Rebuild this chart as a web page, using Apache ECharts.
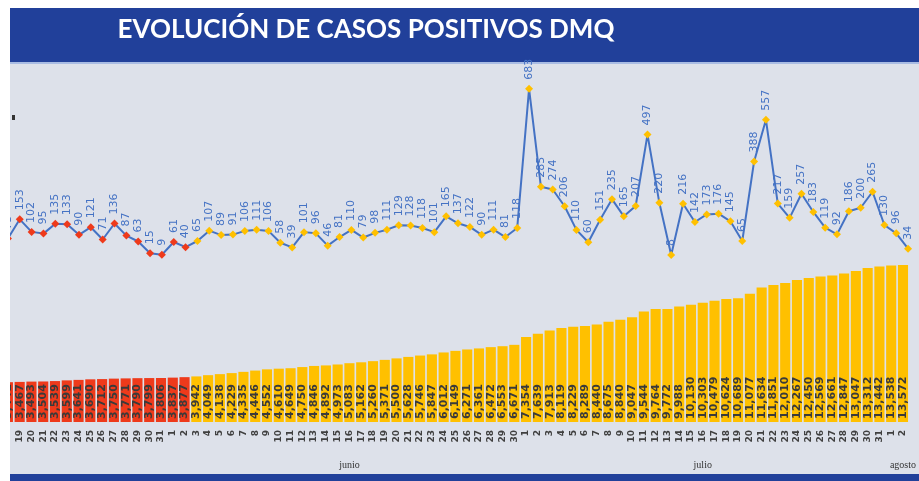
<!DOCTYPE html>
<html><head><meta charset="utf-8">
<script src="https://cdn.jsdelivr.net/npm/echarts@6/dist/echarts.min.js"></script>
<style>html,body{margin:0;padding:0;background:#fff}#c{width:919px;height:481px}</style>
</head><body><div id="c"></div>
<script>
const titleText = 'EVOLUCIÓN DE CASOS POSITIVOS DMQ';
const days = ['18','19','20','21','22','23','24','25','26','27','28','29','30','31',
  '1','2','3','4','5','6','7','8','9','10','11','12','13','14','15','16','17','18','19','20','21','22','23','24','25','26','27','28','29','30',
  '1','2','3','4','5','6','7','8','9','10','11','12','13','14','15','16','17','18','19','20','21','22','23','24','25','26','27','28','29','30','31',
  '1','2'];
const daily = [75,153,102,95,135,133,90,121,71,136,87,63,15,9,61,40,
  65,107,89,91,106,111,106,58,39,101,96,46,81,110,79,98,111,129,128,118,101,165,137,122,90,111,81,118,
  683,285,274,206,110,60,151,235,165,207,497,220,8,216,142,173,176,145,65,388,557,217,159,257,183,119,92,186,200,265,130,
  96,34];
const cumulative = [3441,3467,3493,3504,3539,3599,3641,3690,3712,3750,3771,3790,3799,3806,3837,3877,
  3942,4049,4138,4229,4335,4446,4552,4610,4649,4750,4846,4892,4973,5083,5162,5260,5371,5500,5628,5746,5847,6012,6149,6271,6361,6472,6553,6671,
  7354,7639,7913,8119,8229,8289,8440,8675,8840,9047,9544,9764,9772,9988,10130,10303,10479,10624,10689,11077,11634,11851,12010,12267,12450,12569,12661,12847,13047,13312,13442,
  13538,13572];
const monthNames = ['', 'junio', 'julio', 'agosto'];
const RED_COUNT = 16;

const RED = '#EE3A1B', YELLOW = '#FFC000', BLUE = '#4472C4';

// month label axis built from the day sequence
const monthIdx = [];
let m = 0;
days.forEach((d, i) => { if (i > 0 && d === '1') m++; monthIdx.push(m); });
const monthAxis = days.map(() => '');
monthNames.forEach((name, k) => {
  const idxs = monthIdx.map((v, i) => v === k ? i : -1).filter(i => i >= 0);
  if (idxs.length && name) monthAxis[idxs[Math.floor(idxs.length / 2)]] = name;
});

const colorFor = i => i < RED_COUNT ? RED : YELLOW;
const lineData = daily.map((v, i) => ({ value: v, itemStyle: { color: colorFor(i) } }));
const barData = cumulative.map((v, i) => ({ value: v, itemStyle: { color: colorFor(i) } }));

const chart = echarts.init(document.getElementById('c'), null, { renderer: 'canvas' });
chart.setOption({
  animation: false,
  backgroundColor: '#ffffff',
  graphic: [
    { type: 'rect', z: -10, shape: { x: 10, y: 64, width: 909, height: 412 }, style: { fill: '#DDE1EA' } },
    { type: 'rect', z: -9, shape: { x: 10, y: 8, width: 909, height: 54 }, style: { fill: '#21409A' } },
    { type: 'rect', z: -9, shape: { x: 10, y: 62, width: 909, height: 2 }, style: { fill: '#A9BCE3' } },
    { type: 'text', z: 10, style: { text: titleText, x: 366, y: 30, fill: '#ffffff', font: 'bold 26px Lato', align: 'center', verticalAlign: 'middle' } },
    { type: 'rect', z: 100, shape: { x: 0, y: 0, width: 10, height: 481 }, style: { fill: '#ffffff' } },
    { type: 'rect', z: 100, shape: { x: 10, y: 474, width: 909, height: 7 }, style: { fill: '#21409A' } },
    { type: 'rect', z: 100, shape: { x: 12, y: 115, width: 3, height: 5 }, style: { fill: '#333333' } }
  ],
  grid: [
    { left: 2, right: 5, top: 60, height: 197 },
    { left: 2, right: 5, top: 250, height: 172 }
  ],
  xAxis: [
    { type: 'category', gridIndex: 0, data: days, show: false },
    { type: 'category', gridIndex: 1, data: days, position: 'bottom', offset: 0,
      axisLine: { show: false }, axisTick: { show: false },
      axisLabel: { interval: 0, rotate: 90, margin: 8, fontSize: 9, fontWeight: 'bold', color: '#404040', fontFamily: 'DejaVu Sans' } },
    { type: 'category', gridIndex: 1, data: monthAxis, position: 'bottom', offset: 0,
      axisLine: { show: false }, axisTick: { show: false },
      axisLabel: { interval: 0, margin: 38, fontSize: 10, color: '#333333', fontFamily: 'Liberation Sans Narrow' } }
  ],
  yAxis: [
    { type: 'value', gridIndex: 0, min: 0, max: 800, show: false },
    { type: 'value', gridIndex: 1, min: 0, max: 14870, show: false }
  ],
  series: [
    { type: 'bar', xAxisIndex: 1, yAxisIndex: 1, data: barData, barCategoryGap: '14%',
      label: { show: true, position: 'insideBottom', rotate: 90, align: 'left', verticalAlign: 'middle', distance: 3,
        fontSize: 11, fontWeight: 'bold', color: '#3a3a3a', fontFamily: 'DejaVu Sans',
        formatter: p => p.value.toLocaleString('en-US') } },
    { type: 'line', xAxisIndex: 0, yAxisIndex: 0, data: lineData, symbol: 'diamond', symbolSize: 8,
      showAllSymbol: true,
      lineStyle: { color: BLUE, width: 2 },
      label: { show: true, position: 'top', rotate: 90, align: 'left', verticalAlign: 'middle', distance: 5,
        fontSize: 11, color: BLUE, fontFamily: 'DejaVu Sans' } }
  ]
});
</script>
</body></html>
